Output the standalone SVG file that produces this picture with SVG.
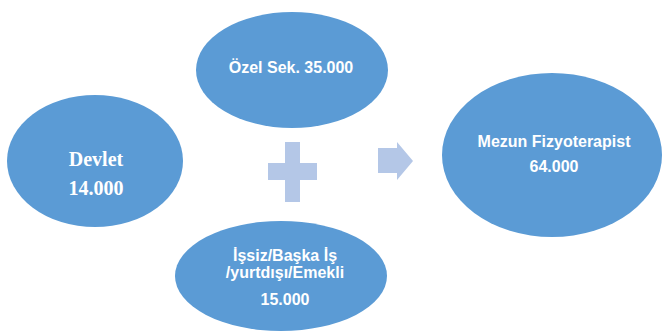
<svg xmlns="http://www.w3.org/2000/svg" width="662" height="333" viewBox="0 0 662 333">
<style>
.node{fill:#5b9bd5;}
.t{fill:#ffffff;font-family:"Liberation Sans",Arial,sans-serif;font-weight:bold;font-size:16px;text-anchor:middle;}
.s{fill:#ffffff;font-family:"Liberation Serif","Times New Roman",serif;font-weight:bold;font-size:20px;text-anchor:middle;}
.sym{fill:#b4c7e7;}
</style>
<rect width="662" height="333" fill="#ffffff"/>
<g id="devlet">
<ellipse class="node" cx="95" cy="161" rx="88" ry="66"/>
<text class="s" x="96" y="166">Devlet</text>
<text class="s" x="96" y="195">14.000</text>
</g>
<g id="ozel">
<ellipse class="node" cx="292" cy="70" rx="96" ry="58"/>
<text class="t" x="291" y="73">Özel Sek. 35.000</text>
</g>
<g id="issiz">
<ellipse class="node" cx="281" cy="276" rx="106" ry="55"/>
<text class="t" x="285" y="261">İşsiz/Başka İş</text>
<text class="t" x="285" y="278">/yurtdışı/Emekli</text>
<text class="t" x="285" y="305">15.000</text>
</g>
<g id="mezun">
<ellipse class="node" cx="552" cy="155" rx="110" ry="82"/>
<text class="t" x="554" y="147">Mezun Fizyoterapist</text>
<text class="t" x="554" y="172">64.000</text>
</g>
<g id="connectors">
<path class="sym" d="M285 142 H300 V163 H317 V180 H300 V202 H285 V180 H268 V163 H285 Z"/>
<path class="sym" d="M378 148 H397 V142 L413 161 L397 180 V173 H378 Z"/>
</g>
</svg>
